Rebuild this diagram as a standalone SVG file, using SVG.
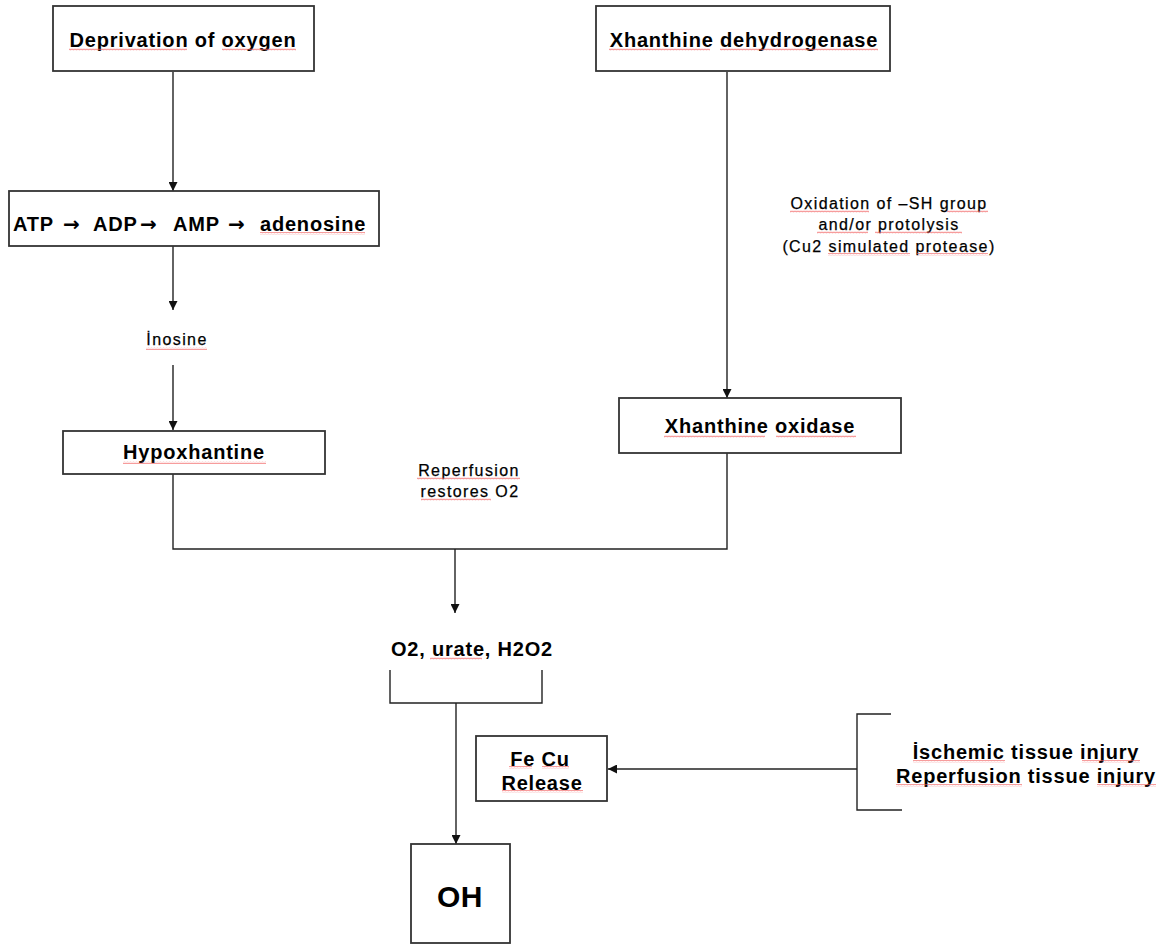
<svg xmlns="http://www.w3.org/2000/svg" width="1174" height="945" viewBox="0 0 1174 945">
  <style>
    .box { fill: #fff; stroke: #333; stroke-width: 1.8; }
    .wire { fill: none; stroke: #222; stroke-width: 1.4; }
    .b { font-family: "Liberation Sans", Arial, sans-serif; font-weight: bold; font-size: 20px; letter-spacing: 0.8px; fill: #000; }
    .s { font-family: "Liberation Sans", Arial, sans-serif; font-size: 16px; letter-spacing: 1.4px; fill: #000; stroke: #000; stroke-width: 0.25; }
    .c { text-anchor: middle; }
    .ar { font-family: "DejaVu Sans", sans-serif; letter-spacing: 0; }
    .sq { fill: url(#squig); }
  </style>
  <defs>
    <marker id="arr" viewBox="0 0 10 10" refX="10" refY="5" markerWidth="11" markerHeight="9" orient="auto" markerUnits="userSpaceOnUse">
      <path d="M0,0 L10,5 L0,10 z" fill="#111"/>
    </marker>
    <!-- wavy red underline -->
    <pattern id="squig" width="3" height="3" patternUnits="userSpaceOnUse">
      <path d="M0,2.2 L0.75,0.8 L1.5,2.2 L2.25,0.8 L3,2.2" fill="none" stroke="#f06060" stroke-width="0.6"/>
    </pattern>
  </defs>

  <rect width="1174" height="945" fill="#fff"/>

  <g id="connectors">
    <path class="wire" d="M173,72 V191" marker-end="url(#arr)"/>
    <path class="wire" d="M173,246 V310" marker-end="url(#arr)"/>
    <path class="wire" d="M173,365 V430" marker-end="url(#arr)"/>
    <path class="wire" d="M727,72 V398" marker-end="url(#arr)"/>
    <path class="wire" d="M173,474 V549 H727 V453"/>
    <path class="wire" d="M455,549 V613" marker-end="url(#arr)"/>
    <path class="wire" d="M390,670 V703 H542 V670"/>
    <path class="wire" d="M456,703 V844" marker-end="url(#arr)"/>
    <path class="wire" d="M857,769 H608" marker-end="url(#arr)"/>
    <path class="wire" d="M891,714 H857 V810 H902"/>
  </g>

  <g id="deprivation">
    <rect class="box" x="53" y="6" width="261" height="65"/>
    <text class="b c" x="183" y="47">Deprivation of oxygen</text>
    <rect class="sq" x="69" y="48" width="118" height="3"/>
    <rect class="sq" x="222" y="48" width="74" height="3"/>
  </g>

  <g id="atp">
    <rect class="box" x="9" y="191" width="370" height="55"/>
    <text class="b" y="231"><tspan x="13">ATP</tspan><tspan class="ar" x="63">→</tspan><tspan x="93">ADP</tspan><tspan class="ar" x="140">→</tspan><tspan x="173">AMP</tspan><tspan class="ar" x="228">→</tspan><tspan x="260">adenosine</tspan></text>
    <rect class="sq" x="260" y="232" width="105" height="3"/>
  </g>

  <g id="inosine">
    <text class="s c" x="177" y="345">İnosine</text>
    <rect class="sq" x="146" y="347" width="61" height="3"/>
  </g>

  <g id="hypoxhantine">
    <rect class="box" x="63" y="431" width="262" height="43"/>
    <text class="b c" x="194" y="459">Hypoxhantine</text>
    <rect class="sq" x="123" y="461" width="143" height="3"/>
  </g>

  <g id="dehydrogenase">
    <rect class="box" x="596" y="6" width="294" height="65"/>
    <text class="b c" x="744" y="47">Xhanthine dehydrogenase</text>
    <rect class="sq" x="609" y="48" width="101" height="3"/>
    <rect class="sq" x="720" y="48" width="158" height="3"/>
  </g>

  <g id="oxidation-label">
    <text class="s c" x="889" y="209">Oxidation of –SH group</text>
    <text class="s c" x="889" y="230">and/or protolysis</text>
    <text class="s c" x="889" y="252">(Cu2 simulated protease)</text>
    <rect class="sq" x="790" y="210" width="79" height="3"/>
    <rect class="sq" x="947" y="210" width="41" height="3"/>
    <rect class="sq" x="817" y="231" width="51" height="3"/>
    <rect class="sq" x="875" y="231" width="87" height="3"/>
    <rect class="sq" x="828" y="253" width="82" height="3"/>
    <rect class="sq" x="917" y="253" width="71" height="3"/>
  </g>

  <g id="oxidase">
    <rect class="box" x="619" y="398" width="282" height="55"/>
    <text class="b c" x="760" y="433">Xhanthine oxidase</text>
    <rect class="sq" x="664" y="435" width="101" height="3"/>
    <rect class="sq" x="776" y="435" width="80" height="3"/>
  </g>

  <g id="reperfusion-label">
    <text class="s c" x="469" y="476">Reperfusion</text>
    <text class="s c" x="470" y="497">restores O2</text>
    <rect class="sq" x="417" y="477" width="103" height="3"/>
    <rect class="sq" x="421" y="498" width="70" height="3"/>
  </g>

  <g id="products">
    <text class="b c" x="472" y="656">O2, urate, H2O2</text>
    <rect class="sq" x="430" y="657" width="52" height="3"/>
  </g>

  <g id="fecu">
    <rect class="box" x="476" y="736" width="131" height="65"/>
    <text class="b c" x="540" y="766">Fe Cu</text>
    <text class="b c" x="542" y="790">Release</text>
    <rect class="sq" x="509" y="766" width="23" height="3"/>
    <rect class="sq" x="542" y="766" width="27" height="3"/>
    <rect class="sq" x="502" y="790" width="81" height="3"/>
  </g>

  <g id="injury">
    <text class="b c" x="1026" y="759">İschemic tissue injury</text>
    <text class="b c" x="1026" y="783">Reperfusion tissue injury</text>
    <rect class="sq" x="913" y="760" width="92" height="3"/>
    <rect class="sq" x="1082" y="760" width="58" height="3"/>
    <rect class="sq" x="896" y="784" width="126" height="3"/>
    <rect class="sq" x="1097" y="784" width="59" height="3"/>
  </g>

  <g id="oh">
    <rect class="box" x="411" y="844" width="99" height="99"/>
    <text class="b c" x="460" y="907" style="font-size:30px;letter-spacing:0.5px">OH</text>
  </g>
</svg>
